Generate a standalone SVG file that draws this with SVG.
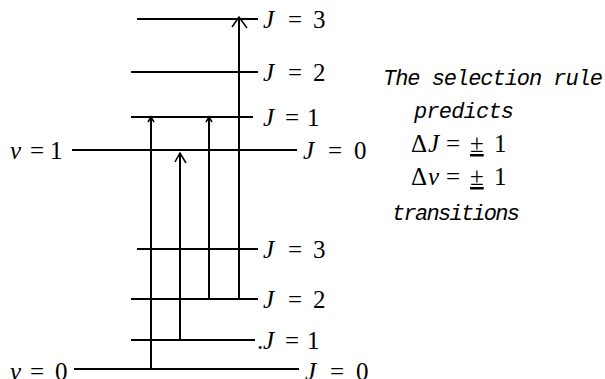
<svg xmlns="http://www.w3.org/2000/svg" width="605" height="379" viewBox="0 0 605 379">
<style>
.lv{stroke:#000;stroke-width:2;fill:none}
.tr{stroke:#000;stroke-width:2;fill:none}
.ah{stroke:#000;stroke-width:1.5;fill:none}
.m{font-family:"Liberation Serif","DejaVu Serif",serif;font-size:25px;fill:#000}
.i{font-style:italic}
.r{font-family:"Liberation Mono","DejaVu Sans Mono",monospace;font-style:italic;font-size:22px;fill:#000}
</style>
<rect width="605" height="379" fill="#fff"/>
<g id="level-v1-J3"><line class="lv" x1="137" y1="19" x2="258" y2="19"/><text class="m"><tspan class="i" x="263" y="28">J</tspan><tspan x="288">=</tspan><tspan x="313">3</tspan></text></g>
<g id="level-v1-J2"><line class="lv" x1="131" y1="72" x2="258" y2="72"/><text class="m"><tspan class="i" x="263" y="81">J</tspan><tspan x="288">=</tspan><tspan x="313">2</tspan></text></g>
<g id="level-v1-J1"><line class="lv" x1="131" y1="117" x2="253" y2="117"/><text class="m"><tspan class="i" x="263" y="126">J</tspan><tspan x="285">=</tspan><tspan x="307">1</tspan></text></g>
<g id="level-v1-J0"><line class="lv" x1="72" y1="150" x2="297" y2="150"/><text class="m"><tspan class="i" x="303" y="159">J</tspan><tspan x="328">=</tspan><tspan x="354">0</tspan></text><text class="m"><tspan class="i" x="10" y="159">ν</tspan><tspan x="30">=</tspan><tspan x="50">1</tspan></text></g>
<g id="level-v0-J3"><line class="lv" x1="137" y1="249" x2="258" y2="249"/><text class="m"><tspan class="i" x="263" y="258">J</tspan><tspan x="288">=</tspan><tspan x="313">3</tspan></text></g>
<g id="level-v0-J2"><line class="lv" x1="131" y1="299" x2="258" y2="299"/><text class="m"><tspan class="i" x="263" y="308">J</tspan><tspan x="288">=</tspan><tspan x="313">2</tspan></text></g>
<g id="level-v0-J1"><line class="lv" x1="131" y1="340" x2="255" y2="340"/><text class="m"><tspan x="257" y="349">.</tspan><tspan class="i" x="263">J</tspan><tspan x="285">=</tspan><tspan x="307">1</tspan></text></g>
<g id="level-v0-J0"><line class="lv" x1="74" y1="369" x2="299" y2="369"/><text class="m"><tspan class="i" x="305" y="380">J</tspan><tspan x="330">=</tspan><tspan x="356">0</tspan></text><text class="m"><tspan class="i" x="10" y="380">ν</tspan><tspan x="30">=</tspan><tspan x="55">0</tspan></text></g>
<g id="rule-text">
<text class="r" x="383" y="85" textLength="220" lengthAdjust="spacing">The selection rule</text>
<text class="r" x="414" y="118" textLength="100" lengthAdjust="spacing">predicts</text>
<text class="m"><tspan x="411" y="152">Δ</tspan><tspan class="i" x="428">J</tspan><tspan x="446">=</tspan><tspan x="470" text-decoration="underline">±</tspan><tspan x="494">1</tspan></text>
<text class="m"><tspan x="411" y="185">Δ</tspan><tspan class="i" x="428">ν</tspan><tspan x="446">=</tspan><tspan x="470" text-decoration="underline">±</tspan><tspan x="494">1</tspan></text>
<text class="r" x="392" y="220" textLength="128" lengthAdjust="spacing">transitions</text>
</g>
<g id="transitions">
<line class="tr" x1="151" y1="369" x2="151" y2="118"/>
<path class="ah" d="M148,122 L151,117 L154,122"/>
<line class="tr" x1="180" y1="340" x2="180" y2="153"/>
<path class="ah" d="M175,162 L180,153 L186,163"/>
<line class="tr" x1="209" y1="299" x2="209" y2="118"/>
<path class="ah" d="M206,122 L209,117 L212,122"/>
<line class="tr" x1="239" y1="299" x2="239" y2="20"/>
<path class="ah" d="M232,27 L239,17 L247,28"/>
</g>
</svg>
